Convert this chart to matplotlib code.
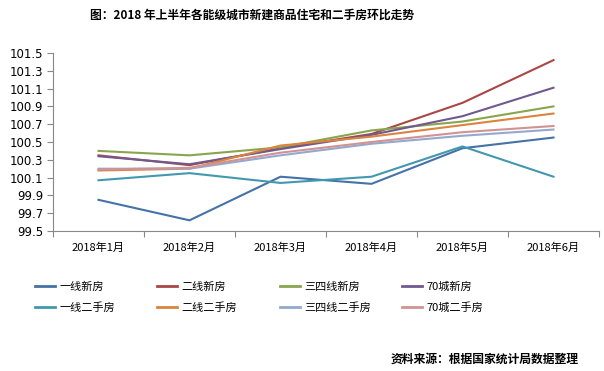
import matplotlib
matplotlib.use('Agg')
import matplotlib.pyplot as plt
from matplotlib.lines import Line2D

plt.rcParams['font.family'] = ['Noto Sans CJK SC', 'DejaVu Sans']

months = ['2018年1月', '2018年2月', '2018年3月', '2018年4月', '2018年5月', '2018年6月']

tier1_new = [99.85, 99.62, 100.11, 100.03, 100.43, 100.55]
tier2_new = [100.35, 100.24, 100.43, 100.59, 100.94, 101.42]
tier34_new = [100.40, 100.35, 100.44, 100.63, 100.73, 100.90]
city70_new = [100.34, 100.25, 100.42, 100.58, 100.79, 101.11]
tier1_used = [100.07, 100.15, 100.04, 100.11, 100.45, 100.11]
tier2_used = [100.18, 100.20, 100.46, 100.56, 100.69, 100.82]
tier34_used = [100.20, 100.20, 100.35, 100.48, 100.57, 100.64]
city70_used = [100.19, 100.21, 100.38, 100.50, 100.61, 100.68]

names = ['一线新房', '二线新房', '三四线新房', '70城新房',
         '一线二手房', '二线二手房', '三四线二手房', '70城二手房']
series = [tier1_new, tier2_new, tier34_new, city70_new,
          tier1_used, tier2_used, tier34_used, city70_used]
colors = ['#4572A7', '#AA4643', '#89A54E', '#71588F',
          '#4198AF', '#DB843D', '#93A9CF', '#D19392']

yticks = [99.5, 99.7, 99.9, 100.1, 100.3, 100.5, 100.7, 100.9, 101.1, 101.3, 101.5]

fig = plt.figure(figsize=(6.04, 3.71), dpi=100)
ax = fig.add_axes([53 / 604, 1 - 231 / 371, 546 / 604, 178 / 371])

x = list(range(len(months)))
for vals, c in zip(series, colors):
    ax.plot(x, vals, color=c, lw=1.5, solid_joinstyle='round')

ax.set_xlim(-0.5, len(months) - 0.5)
ax.set_ylim(99.5, 101.5)
ax.set_yticks(yticks)
ax.set_yticklabels(['%.1f' % v for v in yticks], fontsize=8.5, family=['DejaVu Sans'])
ax.set_xticks([i + 0.5 for i in range(-1, len(months))], minor=False)
ax.set_xticklabels([])
ax.set_xticks(x, minor=True)
ax.set_xticklabels(months, minor=True, fontsize=8)
ax.tick_params(axis='x', which='minor', length=0, pad=8)
ax.tick_params(axis='x', which='major', length=4, color='#888888', direction='out')
ax.tick_params(axis='y', length=4, color='#888888', direction='out', pad=3)
for s in ['top', 'right']:
    ax.spines[s].set_visible(False)
for s in ['left', 'bottom']:
    ax.spines[s].set_color('#888888')

fig.text(252 / 604, 1 - 15 / 371, '图：2018 年上半年各能级城市新建商品住宅和二手房环比走势',
         ha='center', va='center', fontsize=8.5, fontweight='bold')

# one small legend per column so the columns sit at even steps
col_left = [31, 153, 276, 398]
for k, left in enumerate(col_left):
    idx = [k, k + 4]
    handles = [Line2D([0], [0], color=colors[i], lw=2) for i in idx]
    fig.legend(handles, [names[i] for i in idx], loc='upper left',
               bbox_to_anchor=(left / 604, 1 - 277 / 371), frameon=False,
               fontsize=8, handlelength=1.8, handletextpad=0.35,
               labelspacing=0.95, borderaxespad=0)

fig.text(579 / 604, 1 - 359 / 371, '资料来源：根据国家统计局数据整理',
         ha='right', va='center', fontsize=8.5, fontweight='bold')

fig.savefig('out.png', dpi=100)
